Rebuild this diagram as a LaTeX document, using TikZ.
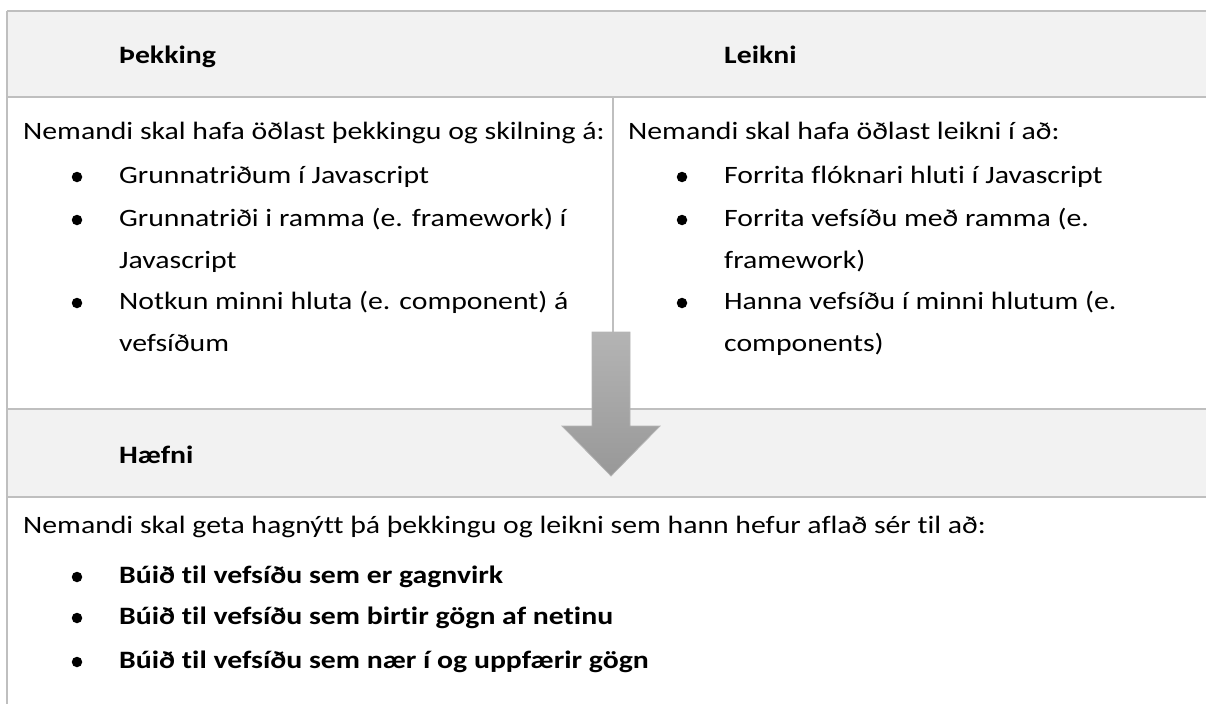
\documentclass[tikz,border=0pt]{standalone}
\usepackage{fontspec}
\setmainfont{Carlito}[Ligatures=NoCommon, FakeStretch=1.19]
\usepackage{xcolor}
\usepackage{tikz}

\definecolor{bandgray}{HTML}{F2F2F2}
\definecolor{rulegray}{HTML}{BFBFBF}
\definecolor{arrowtop}{HTML}{B4B4B4}
\definecolor{arrowbot}{HTML}{989898}

\begin{document}
\begin{tikzpicture}[x=1pt, y=-1pt,
        txt/.style={anchor=base west, inner sep=0pt, font=\fontsize{25}{30}\selectfont},
        head/.style={txt, font=\fontsize{25}{30}\selectfont\bfseries},
        bul/.style={circle, fill=black, inner sep=0pt, minimum size=10.5pt},
        rule/.style={draw=rulegray, line width=1.5pt}]
        \useasboundingbox (0,0) rectangle (1206,704);

        % bands
        \fill[bandgray] (7,11) rectangle (1206,97);
        \fill[bandgray] (7,409) rectangle (1206,497);
        \draw[rule] (7,11) -- (1206,11);
        \draw[rule] (7,97) -- (1206,97);
        \draw[rule] (7,409) -- (1206,409);
        \draw[rule] (7,497) -- (1206,497);
        \draw[rule] (7,11) -- (7,704);
        \draw[rule] (613,97) -- (613,409);

        % headers
        \node[head] (thek) at (119,63) {Þekking};
        \node[head] (leik) at (724,63) {Leikni};
        \node[head] (haef) at (119,463) {Hæfni};

        % left column
        \node[txt] (thek0) at (23,139) {Nemandi skal hafa öðlast þekkingu og skilning á:};
        \node[bul] (tb1) at (77,177) {};
        \node[txt] (thek1) at (119,183) {Grunnatriðum í Javascript};
        \node[bul] (tb2) at (77,220) {};
        \node[txt] (thek2) at (119,226) {Grunnatriði i ramma (e. framework) í};
        \node[txt] (thek2b) at (119,268) {Javascript};
        \node[bul] (tb3) at (77,303) {};
        \node[txt] (thek3) at (119,309) {Notkun minni hluta (e. component) á};
        \node[txt] (thek3b) at (119,351) {vefsíðum};

        % right column
        \node[txt] (leik0) at (628,139) {Nemandi skal hafa öðlast leikni í að:};
        \node[bul] (lb1) at (682,177) {};
        \node[txt] (leik1) at (724,183) {Forrita flóknari hluti í Javascript};
        \node[bul] (lb2) at (682,220) {};
        \node[txt] (leik2) at (724,226) {Forrita vefsíðu með ramma (e.};
        \node[txt] (leik2b) at (724,268) {framework)};
        \node[bul] (lb3) at (682,303) {};
        \node[txt] (leik3) at (724,309) {Hanna vefsíðu í minni hlutum (e.};
        \node[txt] (leik3b) at (724,351) {components)};

        % bottom
        \node[txt] (haef0) at (23,533) {Nemandi skal geta hagnýtt þá þekkingu og leikni sem hann hefur aflað sér til að:};
        \node[bul] (hb1) at (77,577) {};
        \node[head] (haef1) at (119,583) {Búið til vefsíðu sem er gagnvirk};
        \node[bul] (hb2) at (77,618) {};
        \node[head] (haef2) at (119,624) {Búið til vefsíðu sem birtir gögn af netinu};
        \node[bul] (hb3) at (77,662) {};
        \node[head] (haef3) at (119,668) {Búið til vefsíðu sem nær í og uppfærir gögn};

        % block arrow
        \shade[top color=arrowtop, bottom color=arrowbot, draw=arrowtop, line width=0.75pt]
            (592,332) -- (630,332) -- (630,426) -- (660,426) -- (611,476)
            -- (562,426) -- (592,426) -- cycle;
    \end{tikzpicture}
\end{document}
